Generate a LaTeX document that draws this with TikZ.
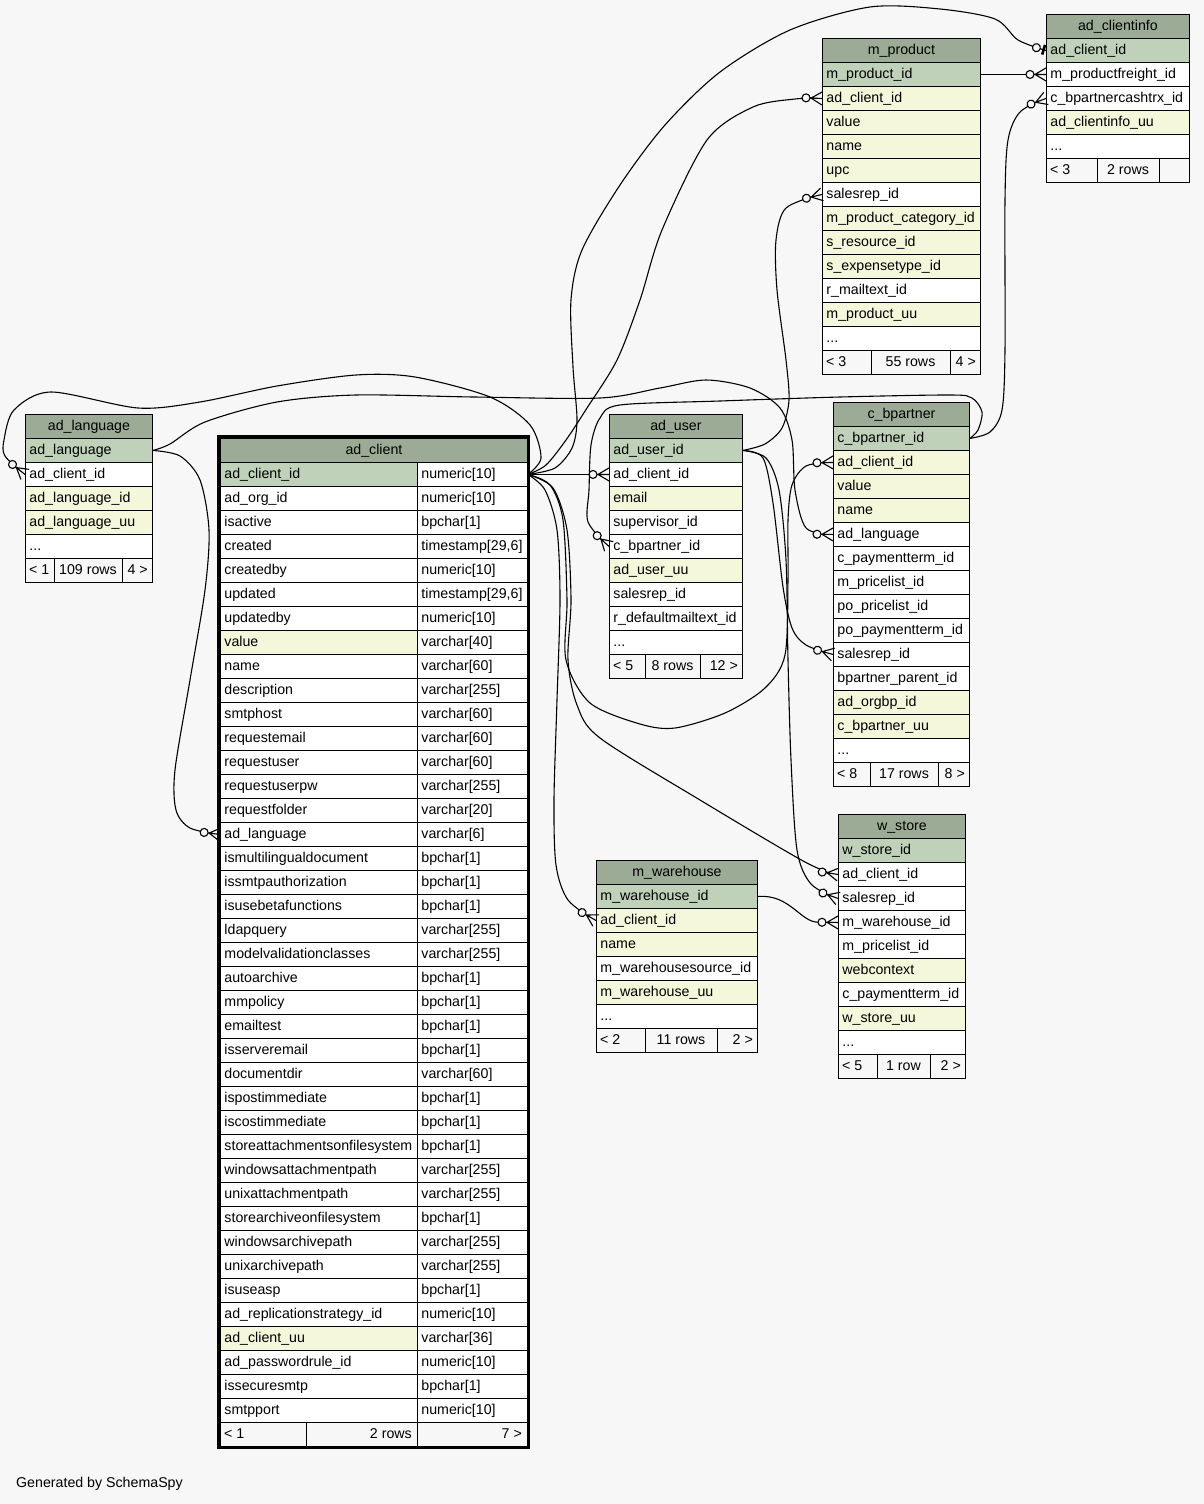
\documentclass[tikz,border=0pt]{standalone}
\usepackage{fontspec}
\setmainfont{Liberation Sans}
\usetikzlibrary{arrows.meta}
\definecolor{bgc}{HTML}{F7F7F7}
\definecolor{colhdr}{HTML}{9BAB96}
\definecolor{colpk}{HTML}{BFD1B8}
\definecolor{colidx}{HTML}{F4F7DA}
\definecolor{colwh}{HTML}{FFFFFF}
\newcommand{\cellfont}{\fontsize{14.2}{17}\selectfont}
\newcommand{\tdots}{...}
\newcommand{\tstamp}{timestamp[29,6]}

\pgfdeclarearrow{
  name = CrowO,
  setup code = {
    \pgfarrowssettipend{0pt}
    \pgfarrowssetlineend{-20pt}
    \pgfarrowssetbackend{-20pt}
    \pgfarrowsupperhullpoint{0pt}{6.5pt}
    \pgfarrowsupperhullpoint{-20pt}{4pt}
  },
  drawing code = {
    \pgfsetdash{}{0pt}
    \pgfpathmoveto{\pgfpoint{-12pt}{0pt}}
    \pgfpathlineto{\pgfpoint{0pt}{0pt}}
    \pgfpathmoveto{\pgfpoint{0pt}{6.5pt}}
    \pgfpathlineto{\pgfpoint{-11pt}{0pt}}
    \pgfpathlineto{\pgfpoint{0pt}{-6.5pt}}
    \pgfusepathqstroke
    \pgfpathcircle{\pgfpoint{-16pt}{0pt}}{4pt}
    \pgfsetfillcolor{bgc}
    \pgfusepathqfillstroke
  }
}
\pgfdeclarearrow{
  name = TeeO,
  setup code = {
    \pgfarrowssettipend{0pt}
    \pgfarrowssetlineend{-14pt}
    \pgfarrowssetbackend{-14pt}
    \pgfarrowsupperhullpoint{0pt}{5pt}
    \pgfarrowsupperhullpoint{-14pt}{4pt}
  },
  drawing code = {
    \pgfsetdash{}{0pt}
    \pgfpathmoveto{\pgfpoint{-6pt}{0pt}}
    \pgfpathlineto{\pgfpoint{0pt}{0pt}}
    \pgfusepathqstroke
    \pgfpathcircle{\pgfpoint{-10pt}{0pt}}{4pt}
    \pgfsetfillcolor{bgc}
    \pgfusepathqfillstroke
    \pgfsetlinewidth{2.6pt}
    \pgfpathmoveto{\pgfpoint{-2.5pt}{5pt}}
    \pgfpathlineto{\pgfpoint{-2.5pt}{-5pt}}
    \pgfusepathqstroke
  }
}

\newcommand{\dbtable}[6]{%
  \pgfmathsetmacro{\tw}{#4-8}%
  \node[hdr, minimum width=#4] (#1h) at (#2,#3) {\makebox[\tw pt][c]{#5}};%
  \foreach \rtxt/\rcol [count=\i from 0] in {#6} {%
    \node[cell, fill=\rcol, minimum width=#4] (#1\i) at (#2,#3+24+24*\i) {\makebox[\tw pt][l]{\rtxt}};%
  }%
}
\newcommand{\dbfoot}[9]{%
  \draw[ftcell] (#2,#3) rectangle (#5,#3+24);
  \draw[ftcell] (#5,#3) rectangle (#6,#3+24);
  \draw[ftcell] (#6,#3) rectangle (#4,#3+24);
  \node[ftxt, anchor=west] (#1fa) at (#2+4,#3+12) {#7};
  \node[ftxt] (#1fb) at ({(#5+#6)/2},#3+12) {#8};
  \node[ftxt, anchor=east] (#1fc) at (#4-4,#3+12) {#9};
}

\begin{document}
\begin{tikzpicture}[x=1pt,y=-1pt,
  cell/.style={draw=black, line width=0.9pt, minimum height=24pt, inner xsep=4pt, inner ysep=0pt,
    anchor=north west, font=\cellfont, text height=11pt, text depth=3pt},
  hdr/.style={cell, fill=colhdr},
  ftxt/.style={font=\cellfont, inner sep=0pt, text height=11pt, text depth=3pt},
  ftcell/.style={draw=black, line width=0.9pt},
  fk/.style={draw=black, line width=1.1pt, -{CrowO}},
  fkone/.style={draw=black, line width=1.1pt, -{TeeO}}
]
\fill[bgc] (0,0) rectangle (1204,1504);
\useasboundingbox (0,0) rectangle (1204,1504);

% ad_language
\dbtable{L}{25}{414}{127}{ad\_language}{ad\_language/colpk, ad\_client\_id/colwh, ad\_language\_id/colidx, ad\_language\_uu/colidx, \tdots/colwh}
\dbfoot{L}{25}{558}{152}{54}{122}{< 1}{109 rows}{4 >}

% m_product
\dbtable{P}{822}{38}{158}{m\_product}{m\_product\_id/colpk, ad\_client\_id/colidx, value/colidx, name/colidx, upc/colidx, salesrep\_id/colwh, m\_product\_category\_id/colidx, s\_resource\_id/colidx, s\_expensetype\_id/colidx, r\_mailtext\_id/colwh, m\_product\_uu/colidx, \tdots/colwh}
\dbfoot{P}{822}{350}{980}{871}{950}{< 3}{55 rows}{4 >}

% ad_clientinfo
\dbtable{I}{1046}{14}{143}{ad\_clientinfo}{ad\_client\_id/colpk, m\_productfreight\_id/colwh, c\_bpartnercashtrx\_id/colwh, ad\_clientinfo\_uu/colidx, \tdots/colwh}
\dbfoot{I}{1046}{158}{1189}{1097}{1159}{< 3}{2 rows}{}

% ad_user
\dbtable{U}{609}{414}{133}{ad\_user}{ad\_user\_id/colpk, ad\_client\_id/colwh, email/colidx, supervisor\_id/colwh, c\_bpartner\_id/colwh, ad\_user\_uu/colidx, salesrep\_id/colwh, r\_defaultmailtext\_id/colwh, \tdots/colwh}
\dbfoot{U}{609}{654}{742}{645}{700}{< 5}{8 rows}{12 >}

% c_bpartner
\dbtable{B}{833}{402}{136}{c\_bpartner}{c\_bpartner\_id/colpk, ad\_client\_id/colidx, value/colidx, name/colidx, ad\_language/colwh, c\_paymentterm\_id/colwh, m\_pricelist\_id/colwh, po\_pricelist\_id/colwh, po\_paymentterm\_id/colwh, salesrep\_id/colwh, bpartner\_parent\_id/colwh, ad\_orgbp\_id/colidx, c\_bpartner\_uu/colidx, \tdots/colwh}
\dbfoot{B}{833}{762}{969}{870}{938}{< 8}{17 rows}{8 >}

% w_store
\dbtable{W}{838}{814}{127}{w\_store}{w\_store\_id/colpk, ad\_client\_id/colwh, salesrep\_id/colwh, m\_warehouse\_id/colwh, m\_pricelist\_id/colwh, webcontext/colidx, c\_paymentterm\_id/colwh, w\_store\_uu/colidx, \tdots/colwh}
\dbfoot{W}{838}{1054}{965}{877}{930}{< 5}{1 row}{2 >}

% m_warehouse
\dbtable{H}{596}{860}{161}{m\_warehouse}{m\_warehouse\_id/colpk, ad\_client\_id/colidx, name/colidx, m\_warehousesource\_id/colwh, m\_warehouse\_uu/colidx, \tdots/colwh}
\dbfoot{H}{596}{1028}{757}{645}{717}{< 2}{11 rows}{2 >}

% ad_client
\node[hdr, minimum width=307] (Ch) at (220,438) {\makebox[299pt][c]{ad\_client}};
\foreach \rn/\rt/\rc [count=\i from 0] in {
 ad\_client\_id/numeric[10]/colpk, ad\_org\_id/numeric[10]/colwh, isactive/bpchar[1]/colwh,
 created/\tstamp/colwh, createdby/numeric[10]/colwh, updated/\tstamp/colwh,
 updatedby/numeric[10]/colwh, value/varchar[40]/colidx, name/varchar[60]/colwh,
 description/varchar[255]/colwh, smtphost/varchar[60]/colwh, requestemail/varchar[60]/colwh,
 requestuser/varchar[60]/colwh, requestuserpw/varchar[255]/colwh, requestfolder/varchar[20]/colwh,
 ad\_language/varchar[6]/colwh, ismultilingualdocument/bpchar[1]/colwh,
 issmtpauthorization/bpchar[1]/colwh, isusebetafunctions/bpchar[1]/colwh,
 ldapquery/varchar[255]/colwh, modelvalidationclasses/varchar[255]/colwh,
 autoarchive/bpchar[1]/colwh, mmpolicy/bpchar[1]/colwh, emailtest/bpchar[1]/colwh,
 isserveremail/bpchar[1]/colwh, documentdir/varchar[60]/colwh, ispostimmediate/bpchar[1]/colwh,
 iscostimmediate/bpchar[1]/colwh, storeattachmentsonfilesystem/bpchar[1]/colwh,
 windowsattachmentpath/varchar[255]/colwh, unixattachmentpath/varchar[255]/colwh,
 storearchiveonfilesystem/bpchar[1]/colwh, windowsarchivepath/varchar[255]/colwh,
 unixarchivepath/varchar[255]/colwh, isuseasp/bpchar[1]/colwh,
 ad\_replicationstrategy\_id/numeric[10]/colwh, ad\_client\_uu/varchar[36]/colidx,
 ad\_passwordrule\_id/numeric[10]/colwh, issecuresmtp/bpchar[1]/colwh, smtpport/numeric[10]/colwh} {
  \node[cell, fill=\rc, minimum width=197] (C\i) at (220,462+24*\i) {\makebox[189pt][l]{\rn}};
  \node[cell, fill=colwh, minimum width=110] (Ct\i) at (417,462+24*\i) {\makebox[102pt][l]{\rt}};
}
\draw[ftcell] (220,1422) rectangle (306,1446);
\draw[ftcell] (306,1422) rectangle (417,1446);
\draw[ftcell] (417,1422) rectangle (527,1446);
\node[ftxt, anchor=west] (Cfa) at (224,1434) {< 1};
\node[ftxt, anchor=east] (Cfb) at (412,1434) {2 rows};
\node[ftxt, anchor=east] (Cfc) at (522,1434) {7 >};
\draw[line width=3.5pt] (218.5,436.5) rectangle (528.5,1447.5);

% connectors
\draw[fk] (Ct0.east) -- (U1.west);
\draw[fk] (P0.east) -- (I1.west);
% ad_client -> ad_language
\draw[fk] plot[smooth] coordinates {(Ct0.east) (541,458) (530,425) (490,397) (415,377) (356,375) (277,386) (200,402) (138,408) (51,392) (14,410) (4,440) (5,456) (L1.west)};
% ad_client -> ad_clientinfo
\draw[fkone] plot[smooth] coordinates {(Ct0.east) (555,468) (572,448) (577,420) (573,367) (571,300) (582,250) (620,185) (665,125) (720,72) (790,30) (870,7) (940,9) (995,19) (1018,40) (I0.west)};
% ad_client -> m_product
\draw[fk] plot[smooth] coordinates {(Ct0.east) (546,465) (566,440) (587,408) (617,360) (640,300) (662,230) (707,140) (753,107) (795,99) (P1.west)};
% ad_client -> c_bpartner
\draw[fk] plot[smooth] coordinates {(Ct0.east) (550,485) (563,520) (567,600) (566,660) (590,703) (640,724) (675,728) (725,713) (765,688) (785,655) (788,580) (788,520) (792,485) (806,466) (B1.west)};
% ad_client -> w_store
\draw[fk] plot[smooth] coordinates {(Ct0.east) (553,488) (567,530) (571,600) (568,660) (577,705) (600,738) (700,800) (805,862) (W1.west)};
% ad_client -> m_warehouse
\draw[fk] plot[smooth] coordinates {(Ct0.east) (545,490) (557,530) (560,600) (557,700) (554,800) (556,865) (568,900) (H1.west)};
% ad_language -> ad_client
\draw[fk] plot[smooth] coordinates {(L0.east) (180,456) (200,480) (209,530) (205,590) (190,680) (175,770) (176,810) (190,828) (C15.west)};
% ad_language -> c_bpartner
\draw[fk] plot[smooth] coordinates {(L0.east) (170,444) (205,422) (277,402) (356,395) (474,397) (600,398) (660,388) (706,380) (750,388) (780,408) (792,440) (795,490) (806,528) (B4.west)};
% ad_user -> m_product
\draw[fk] plot[smooth] coordinates {(U0.east) (765,444) (782,428) (789,400) (786,360) (777,290) (776,240) (786,208) (P5.west)};
% ad_user -> c_bpartner
\draw[fk] plot[smooth] coordinates {(U0.east) (763,458) (773,503) (783,587) (792,628) (806,645) (B9.west)};
% ad_user -> w_store
\draw[fk] plot[smooth] coordinates {(U0.east) (766,458) (779,490) (786,560) (788,660) (791,760) (797,850) (811,884) (W2.west)};
% c_bpartner -> ad_user
\draw[fk] plot[smooth] coordinates {(B0.east) (978,430) (982,412) (972,398) (950,395) (840,397) (720,401) (620,405) (600,418) (591,445) (589,490) (588,522) (U4.west)};
% c_bpartner -> ad_clientinfo
\draw[fk] plot[smooth] coordinates {(B0.east) (990,432) (1002,410) (1005,350) (1005,200) (1008,140) (1020,112) (I2.west)};
% m_warehouse -> w_store
\draw[fk] (H0.east) .. controls (790,894) and (800,922) .. (W3.west);

\node[ftxt, anchor=west] (gen) at (16,1483) {Generated by SchemaSpy};
\end{tikzpicture}
\end{document}
